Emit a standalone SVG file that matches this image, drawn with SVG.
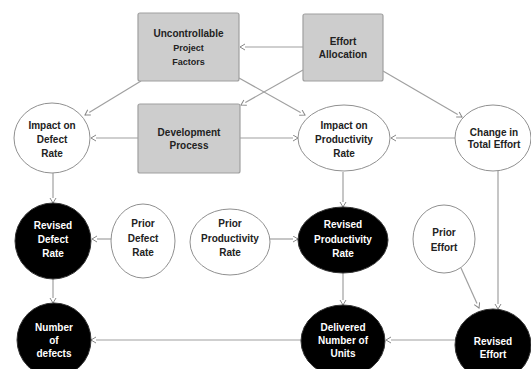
<svg xmlns="http://www.w3.org/2000/svg" width="531" height="369" viewBox="0 0 531 369">
<defs>
<marker id="arr" markerWidth="8" markerHeight="8" refX="6" refY="3.5" orient="auto" markerUnits="userSpaceOnUse">
<path d="M1,0.5 L6,3.5 L1,6.5" fill="#fff" stroke="#888" stroke-width="1"/>
</marker>
</defs>
<style>
.box{fill:#cdcdcd;stroke:#a0a0a0;stroke-width:1.2}
.wn{fill:#fff;stroke:#909090;stroke-width:1}
.bn{fill:#000;stroke:#333;stroke-width:1}
text{font-family:"Liberation Sans",Arial,sans-serif;font-weight:bold;font-size:10px;text-anchor:middle}
.d{fill:#222}
.w{fill:#fff}
.s{font-size:9px}
#edges line{stroke:#a0a0a0;stroke-width:1.2;marker-end:url(#arr)}
</style>
<rect width="531" height="369" fill="#fff"/>
<g id="edges">
<line x1="303" y1="47" x2="240" y2="47"/>
<line x1="141" y1="81" x2="85" y2="115"/>
<line x1="239" y1="78" x2="305" y2="115"/>
<line x1="303" y1="70" x2="241" y2="105"/>
<line x1="383" y1="71" x2="462" y2="117"/>
<line x1="138" y1="138" x2="91" y2="138"/>
<line x1="240" y1="138" x2="298" y2="138"/>
<line x1="455" y1="138" x2="391" y2="138"/>
<line x1="53" y1="173" x2="53" y2="203"/>
<line x1="111" y1="239" x2="92" y2="239"/>
<line x1="270" y1="239" x2="298" y2="239"/>
<line x1="343" y1="172" x2="343" y2="207"/>
<line x1="498" y1="171" x2="498" y2="309"/>
<line x1="461" y1="268" x2="479" y2="308"/>
<line x1="53" y1="279" x2="53" y2="303"/>
<line x1="343" y1="273" x2="343" y2="305"/>
<line x1="302" y1="340" x2="91" y2="340"/>
<line x1="455" y1="340" x2="386" y2="340"/>
</g>
<g id="uncontrollable">
<rect class="box" x="138" y="13" width="101" height="68" rx="2"/>
<text class="d" x="188.5" y="37">Uncontrollable</text>
<text class="d s" x="188.5" y="51">Project</text>
<text class="d s" x="188.5" y="65">Factors</text>
</g>
<g id="effortAllocation">
<rect class="box" x="303" y="14" width="80" height="67" rx="2"/>
<text class="d" x="343" y="45">Effort</text>
<text class="d" x="343" y="58">Allocation</text>
</g>
<g id="devProcess">
<rect class="box" x="138" y="104" width="102" height="69" rx="2"/>
<text class="d" x="189" y="136">Development</text>
<text class="d" x="189" y="149">Process</text>
</g>
<g id="impactDefect">
<ellipse class="wn" cx="52" cy="138" rx="38" ry="35"/>
<text class="d" x="52" y="129">Impact on</text>
<text class="d" x="52" y="143">Defect</text>
<text class="d" x="52" y="157">Rate</text>
</g>
<g id="impactProd">
<ellipse class="wn" cx="344" cy="138" rx="46" ry="33"/>
<text class="d" x="344" y="129">Impact on</text>
<text class="d" x="344" y="143">Productivity</text>
<text class="d" x="344" y="157">Rate</text>
</g>
<g id="changeEffort">
<ellipse class="wn" cx="493" cy="138" rx="38" ry="33"/>
<text class="d" x="494" y="136">Change in</text>
<text class="d" x="494" y="148">Total Effort</text>
</g>
<g id="revisedDefect">
<ellipse class="bn" cx="53" cy="241" rx="38" ry="38"/>
<text class="w" x="53" y="229">Revised</text>
<text class="w" x="53" y="243">Defect</text>
<text class="w" x="53" y="257">Rate</text>
</g>
<g id="priorDefect">
<ellipse class="wn" cx="143" cy="241" rx="32" ry="37"/>
<text class="d" x="143" y="227">Prior</text>
<text class="d" x="143" y="242">Defect</text>
<text class="d" x="143" y="256">Rate</text>
</g>
<g id="priorProd">
<ellipse class="wn" cx="230" cy="242" rx="40" ry="33"/>
<text class="d" x="230" y="227">Prior</text>
<text class="d" x="230" y="242">Productivity</text>
<text class="d" x="230" y="256">Rate</text>
</g>
<g id="revisedProd">
<ellipse class="bn" cx="343" cy="240" rx="45" ry="33"/>
<text class="w" x="343" y="228">Revised</text>
<text class="w" x="343" y="243">Productivity</text>
<text class="w" x="343" y="257">Rate</text>
</g>
<g id="priorEffort">
<ellipse class="wn" cx="444" cy="239" rx="31" ry="34"/>
<text class="d" x="444" y="236">Prior</text>
<text class="d" x="444" y="251">Effort</text>
</g>
<g id="numDefects">
<ellipse class="bn" cx="54" cy="340" rx="37" ry="37"/>
<text class="w" x="54" y="331">Number</text>
<text class="w" x="54" y="344">of</text>
<text class="w" x="54" y="357">defects</text>
</g>
<g id="delivered">
<ellipse class="bn" cx="343" cy="341" rx="42" ry="36"/>
<text class="w" x="343" y="331">Delivered</text>
<text class="w" x="343" y="344">Number of</text>
<text class="w" x="343" y="357">Units</text>
</g>
<g id="revisedEffort">
<ellipse class="bn" cx="493" cy="345" rx="38" ry="36"/>
<text class="w" x="493" y="345">Revised</text>
<text class="w" x="493" y="358">Effort</text>
</g>
</svg>
